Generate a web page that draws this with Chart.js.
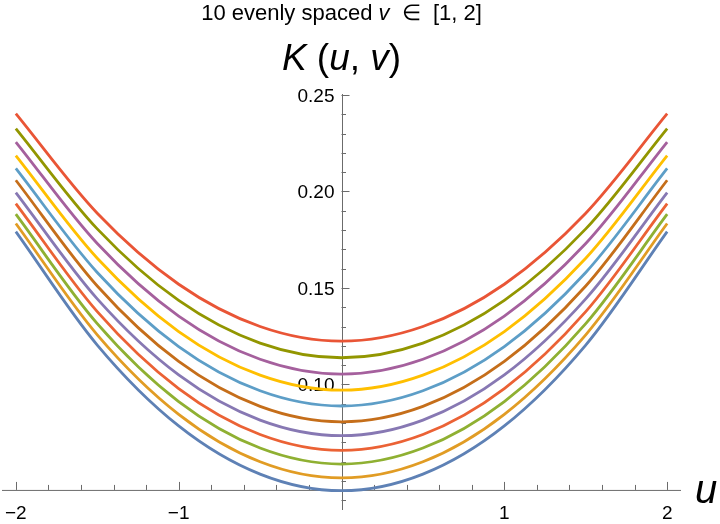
<!DOCTYPE html>
<html>
<head>
<meta charset="utf-8">
<script src="https://cdn.jsdelivr.net/npm/chart.js@4"></script>
<style>
  html, body { margin: 0; padding: 0; background: #fff; }
  #wrap { width: 720px; height: 524px; }
</style>
</head>
<body>
<div id="wrap"><canvas id="chart" width="720" height="524"></canvas></div>
<script>
// u samples (symmetric about 0)
const uValues = [-2, -1.5, -1, -0.5, 0, 0.5, 1, 1.5, 2];

// K(u, v), one array per v
const kV10 = [0.1792, 0.1204, 0.0785, 0.0535, 0.0449, 0.0535, 0.0785, 0.1204, 0.1792];
const kV11 = [0.1834, 0.1257, 0.0845, 0.0599, 0.0515, 0.0599, 0.0845, 0.1257, 0.1834];
const kV12 = [0.1882, 0.1315, 0.0911, 0.0670, 0.0587, 0.0670, 0.0911, 0.1315, 0.1882];
const kV13 = [0.1937, 0.1377, 0.0978, 0.0740, 0.0658, 0.0740, 0.0978, 0.1377, 0.1937];
const kV14 = [0.1994, 0.1443, 0.1049, 0.0815, 0.0734, 0.0815, 0.1049, 0.1443, 0.1994];
const kV15 = [0.2058, 0.1510, 0.1119, 0.0886, 0.0806, 0.0886, 0.1119, 0.1510, 0.2058];
const kV16 = [0.2119, 0.1580, 0.1196, 0.0967, 0.0888, 0.0967, 0.1196, 0.1580, 0.2119];
const kV17 = [0.2186, 0.1654, 0.1274, 0.1048, 0.0970, 0.1048, 0.1274, 0.1654, 0.2186];
const kV18 = [0.2256, 0.1730, 0.1354, 0.1130, 0.1053, 0.1130, 0.1354, 0.1730, 0.2256];
const kV19 = [0.2326, 0.1806, 0.1435, 0.1214, 0.1138, 0.1214, 0.1435, 0.1806, 0.2326];
const kV20 = [0.2403, 0.1887, 0.1519, 0.1300, 0.1224, 0.1300, 0.1519, 0.1887, 0.2403];

const vNames = ['1', '1.1', '1.2', '1.3', '1.4', '1.5', '1.6', '1.7', '1.8', '1.9', '2'];
const series = [kV10, kV11, kV12, kV13, kV14, kV15, kV16, kV17, kV18, kV19, kV20];
const colors = ['#5e81b5', '#e19c24', '#8fb032', '#eb6235', '#8778b3', '#c56e1a',
                '#5d9ec7', '#ffbf00', '#a5609d', '#929600', '#e95536'];

// axis ticks
const xMajorTicks = [-2, -1, 1, 2];
const xMajorLabels = ['\u22122', '\u22121', '1', '2'];
const xMinorTicks = [-1.8, -1.6, -1.4, -1.2, -0.8, -0.6, -0.4, -0.2, 0.2, 0.4, 0.6, 0.8,
                     1.2, 1.4, 1.6, 1.8];
const yMajorTicks = [0.10, 0.15, 0.20, 0.25];
const yMajorLabels = ['0.10', '0.15', '0.20', '0.25'];
const yMinorTicks = [0.04, 0.05, 0.06, 0.07, 0.08, 0.09, 0.11, 0.12, 0.13, 0.14, 0.16, 0.17,
                     0.18, 0.19, 0.21, 0.22, 0.23, 0.24];
const xAxisAt = 0.0453; // y value where the u axis crosses

const FONT = '"Liberation Sans", Arial, Helvetica, sans-serif';
const AXIS_COLOR = '#6b6b6b';

const axesPlugin = {
    id: 'mmaAxes',
    beforeDatasetsDraw(chart) {
        const { ctx, chartArea, scales: { x, y } } = chart;
        const ox = x.getPixelForValue(0);
        const oy = y.getPixelForValue(xAxisAt);
        ctx.save();
        ctx.strokeStyle = AXIS_COLOR;
        ctx.lineWidth = 1;

        ctx.beginPath();
        ctx.moveTo(chartArea.left, oy + 0.5);
        ctx.lineTo(chartArea.right, oy + 0.5);
        ctx.moveTo(Math.round(ox) + 0.5, chartArea.top);
        ctx.lineTo(Math.round(ox) + 0.5, chartArea.bottom);

        xMajorTicks.forEach(v => {
            const px = Math.round(x.getPixelForValue(v)) + 0.5;
            ctx.moveTo(px, oy); ctx.lineTo(px, oy - 8);
        });
        xMinorTicks.forEach(v => {
            const px = Math.round(x.getPixelForValue(v)) + 0.5;
            ctx.moveTo(px, oy); ctx.lineTo(px, oy - 5);
        });
        yMajorTicks.forEach(v => {
            const py = Math.round(y.getPixelForValue(v)) + 0.5;
            ctx.moveTo(ox, py); ctx.lineTo(ox + 8, py);
        });
        yMinorTicks.forEach(v => {
            const py = Math.round(y.getPixelForValue(v)) + 0.5;
            ctx.moveTo(ox, py); ctx.lineTo(ox + 4.5, py);
        });
        ctx.stroke();

        ctx.fillStyle = '#000';
        ctx.font = '19px ' + FONT;
        ctx.textAlign = 'center';
        ctx.textBaseline = 'alphabetic';
        xMajorTicks.forEach((v, i) => {
            ctx.fillText(xMajorLabels[i], x.getPixelForValue(v), oy + 29);
        });
        ctx.textAlign = 'right';
        yMajorTicks.forEach((v, i) => {
            ctx.fillText(yMajorLabels[i], ox - 7, y.getPixelForValue(v) + 7);
        });
        ctx.restore();
    },
    afterDraw(chart) {
        const { ctx, scales: { x, y } } = chart;
        const ox = x.getPixelForValue(0);
        const oy = y.getPixelForValue(xAxisAt);
        ctx.save();
        ctx.fillStyle = '#000';
        ctx.textBaseline = 'alphabetic';

        // mixed upright/italic lines, centred on the K axis
        const drawRuns = (runs, cx, baseY) => {
            let total = 0;
            runs.forEach(r => { ctx.font = r.font; total += ctx.measureText(r.text).width; });
            let px = cx - total / 2;
            ctx.textAlign = 'left';
            runs.forEach(r => {
                ctx.font = r.font;
                ctx.fillText(r.text, px, baseY);
                px += ctx.measureText(r.text).width;
            });
        };
        const up = '22px ' + FONT, it = 'italic 22px ' + FONT;
        drawRuns([
            { text: '10 evenly spaced ', font: up },
            { text: 'v', font: it },
            { text: '  \u2208  [1, 2]', font: up }
        ], ox, 20);

        const bigUp = '37px ' + FONT, bigIt = 'italic 37px ' + FONT;
        drawRuns([
            { text: 'K', font: bigIt },
            { text: ' (', font: bigUp },
            { text: 'u', font: bigIt },
            { text: ', ', font: bigUp },
            { text: 'v', font: bigIt },
            { text: ')', font: bigUp }
        ], ox, 70);

        ctx.font = 'italic 40px ' + FONT;
        ctx.textAlign = 'left';
        ctx.fillText('u', 695, oy + 13);
        ctx.restore();
    }
};

const datasets = series.map((vals, i) => ({
    label: 'v = ' + vNames[i],
    data: uValues.map((u, j) => ({ x: u, y: vals[j] })),
    borderColor: colors[i],
    borderWidth: 2.8,
    pointRadius: 0,
    fill: false,
    cubicInterpolationMode: 'monotone'
}));

new Chart(document.getElementById('chart').getContext('2d'), {
    type: 'line',
    data: { datasets },
    options: {
        responsive: false,
        animation: false,
        layout: { padding: { top: 94, bottom: 14, left: 2, right: 39 } },
        scales: {
            x: { type: 'linear', min: -2.085, max: 2.085, display: false },
            y: { type: 'linear', min: 0.0349, max: 0.2505, display: false }
        },
        plugins: {
            legend: { display: false },
            tooltip: { enabled: false },
            title: { display: false }
        }
    },
    plugins: [axesPlugin]
});
</script>
</body>
</html>
